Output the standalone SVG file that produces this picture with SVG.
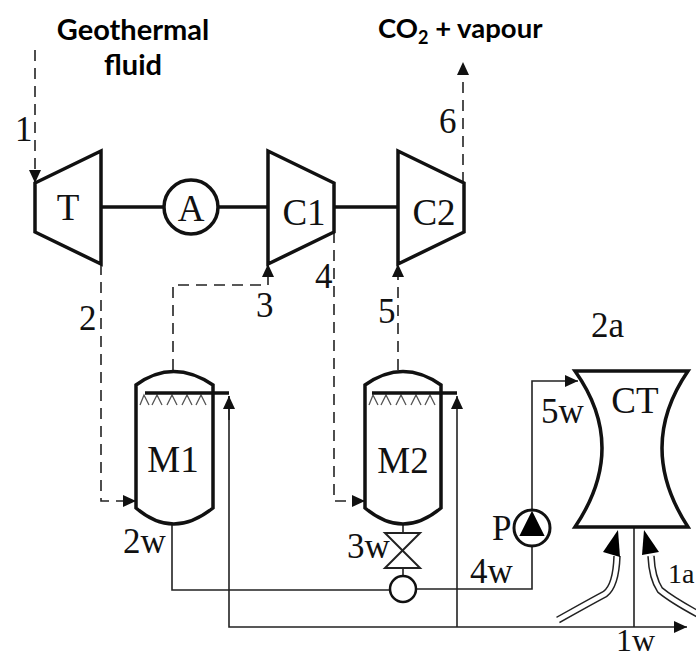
<svg xmlns="http://www.w3.org/2000/svg" width="696" height="658" viewBox="0 0 696 658">
<style>
.eq{fill:#fff;stroke:#111;stroke-width:3.5;stroke-linejoin:miter}
.shaft{fill:none;stroke:#111;stroke-width:3.5}
.thin{fill:none;stroke:#222;stroke-width:1.6}
.dash{fill:none;stroke:#222;stroke-width:1.6;stroke-dasharray:11 7}
.spray{fill:none;stroke:#555;stroke-width:1.3}
.lbl{font-family:"Liberation Serif",serif;font-size:35px;fill:#111}
.nd{font-family:"Liberation Serif",serif;font-size:37px;fill:#111;text-anchor:middle}
.ttl{font-family:Lato,"Liberation Sans",sans-serif;font-weight:700;font-size:29px;fill:#000}
.tube1{fill:none;stroke:#222;stroke-width:7.5}
.tube2{fill:none;stroke:#fff;stroke-width:4.5}
</style>
<defs>
<marker id="ah" markerUnits="userSpaceOnUse" markerWidth="14" markerHeight="12" refX="13" refY="6" orient="auto"><path d="M0 0L13 6L0 12Z" fill="#111"/></marker>
<path id="spr" class="spray" d="M0 11L4 1L9 11M12 11L17 1L22 11M27 11L32 1L37 11M42 11L47 1L52 11M56 11L61 1L66 11"/>
</defs>
<g id="connectors">
<path class="shaft" d="M101 207H164M218 207H268M334 207H398"/>
<path class="dash" d="M35 50V183" marker-end="url(#ah)"/>
<path class="dash" d="M101 264V501H136" marker-end="url(#ah)"/>
<path class="dash" d="M173 370V285H268V264" marker-end="url(#ah)"/>
<path class="dash" d="M334 232V501H365" marker-end="url(#ah)"/>
<path class="dash" d="M398 370V264" marker-end="url(#ah)"/>
<path class="dash" d="M463 183V62" marker-end="url(#ah)"/>
<path class="thin" d="M172 524V590H390M416 589H532V547"/>
<path class="thin" d="M532 510V381H578" marker-end="url(#ah)"/>
<path class="thin" d="M229 396V627H687" marker-end="url(#ah)"/>
<path class="thin" d="M229 420V396" marker-end="url(#ah)"/>
<path class="thin" d="M457 627V396" marker-end="url(#ah)"/>
<path class="thin" d="M634 527V627"/>
<path class="thin" d="M403 524V533M403 568V576"/>
</g>
<g id="T"><path class="eq" d="M35 183L101 151V264L35 232Z"/><text class="nd" x="68" y="220">T</text></g>
<g id="A"><circle class="eq" cx="191" cy="207" r="27"/><text class="nd" x="191" y="221">A</text></g>
<g id="C1"><path class="eq" d="M268 151L334 183V232L268 264Z"/><text class="nd" x="304" y="225">C1</text></g>
<g id="C2"><path class="eq" d="M398 151L464 183V232L398 264Z"/><text class="nd" x="434" y="225">C2</text></g>
<g id="M1">
<path class="eq" d="M136 385Q173 358 213 385V508Q173 540 136 508Z"/>
<use href="#spr" x="140" y="394"/>
<path class="shaft" d="M145 393H229"/>
<text class="nd" x="173" y="472">M1</text>
</g>
<g id="M2">
<path class="eq" d="M365 385Q403 358 441 385V508Q403 540 365 508Z"/>
<use href="#spr" x="369" y="394"/>
<path class="shaft" d="M372 393H457"/>
<text class="nd" x="403" y="473">M2</text>
</g>
<g id="valve"><path d="M385 533H420L385 568H420Z" fill="#fff" stroke="#222" stroke-width="2"/></g>
<g id="junction"><circle cx="403" cy="589" r="13" fill="#fff" stroke="#111" stroke-width="2.5"/></g>
<g id="P"><circle cx="532" cy="528" r="18" fill="#fff" stroke="#111" stroke-width="3"/><path d="M532 513L543 535H521Z" fill="#000" stroke="#000" stroke-width="2"/></g>
<g id="CT">
<path class="eq" d="M575 371H688Q636 447 688 527H575Q629 447 575 371Z"/>
<text class="nd" x="635" y="413">CT</text>
</g>
<g id="air">
<path class="tube1" d="M558 620Q590 602 605 594Q616 586 617 556"/>
<path class="tube2" d="M556 621Q590 602 605 594Q616 586 617 556"/>
<path d="M618 530L603 552L620 557Z" fill="#000"/>
<path class="tube1" d="M698 614Q672 600 660 590Q652 578 651 556"/>
<path class="tube2" d="M700 615Q672 600 660 590Q652 578 651 556"/>
<path d="M644 530L642 555L659 552Z" fill="#000"/>
</g>
<g id="labels">
<text class="lbl" x="15" y="141">1</text>
<text class="lbl" x="79" y="330">2</text>
<text class="lbl" x="256" y="317">3</text>
<text class="lbl" x="315" y="288">4</text>
<text class="lbl" x="378" y="323">5</text>
<text class="lbl" x="439" y="133">6</text>
<text class="lbl" x="591" y="337">2a</text>
<text class="lbl" x="123" y="553">2w</text>
<text class="lbl" x="347" y="558">3w</text>
<text class="lbl" x="470" y="583">4w</text>
<text class="lbl" x="541" y="423">5w</text>
<text class="lbl" x="492" y="540">P</text>
<text class="lbl" x="668" y="583" style="font-size:28px">1a</text>
<text class="lbl" x="616" y="651" style="font-size:32px">1w</text>
<text class="ttl" x="133" y="40" text-anchor="middle">Geothermal</text>
<text class="ttl" x="133" y="75" text-anchor="middle">fluid</text>
<text class="ttl" x="378" y="38" style="font-size:27.5px">CO<tspan font-size="18" dy="6">2</tspan><tspan dy="-6"> + vapour</tspan></text>
</g>
</svg>
